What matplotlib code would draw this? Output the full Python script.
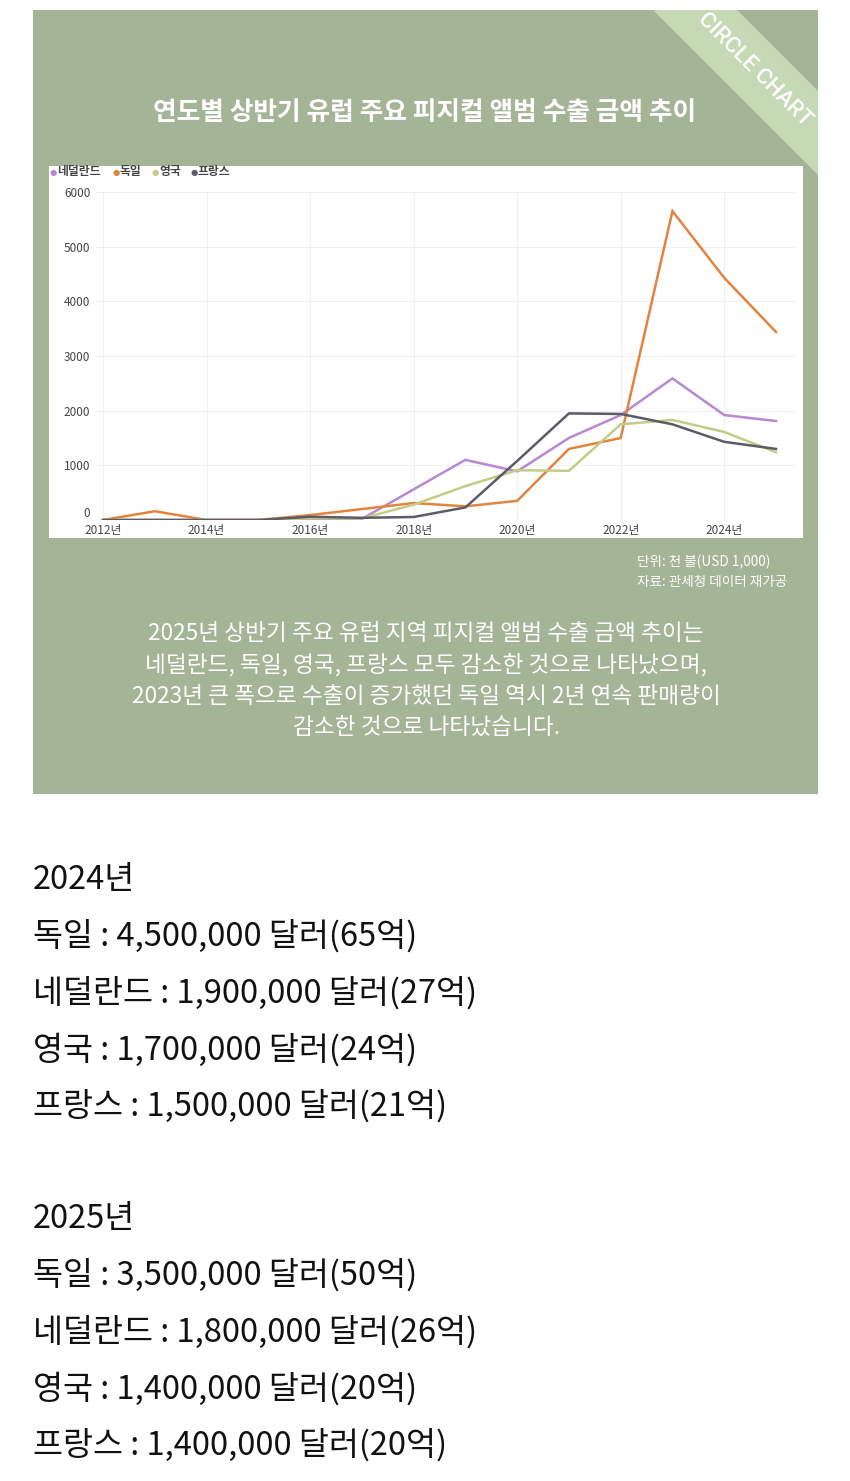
import matplotlib
matplotlib.use("Agg")
import matplotlib.pyplot as plt
from matplotlib.patches import Rectangle, Polygon

plt.rcParams['font.family'] = ['Noto Sans CJK KR', 'DejaVu Sans']

W, H = 850, 1481

# data (unit: thousand USD, first half of each year)
years = list(range(2012, 2026))
series_names = ['네덜란드', '독일', '영국', '프랑스']
netherlands = [0, 0, 0, 0, 0, 20, 560, 1100, 890, 1500, 1920, 2590, 1920, 1810]
germany = [0, 160, 0, 0, 90, 200, 310, 250, 350, 1300, 1500, 5650, 4430, 3440]
uk = [0, 0, 0, 0, 30, 30, 280, 620, 910, 900, 1750, 1830, 1610, 1240]
france = [0, 0, 0, 0, 60, 40, 55, 230, 1080, 1950, 1940, 1750, 1430, 1300]
series_colors = ['#b888d2', '#e2843e', '#c3cc86', '#5c5c66']
xtick_years = [2012, 2014, 2016, 2018, 2020, 2022, 2024]
yticks = [0, 1000, 2000, 3000, 4000, 5000, 6000]

title = '연도별 상반기 유럽 주요 피지컬 앨범 수출 금액 추이'
unit_note = '단위: 천 불(USD 1,000)'
source_note = '자료: 관세청 데이터 재가공'
paragraph = ['2025년 상반기 주요 유럽 지역 피지컬 앨범 수출 금액 추이는',
             '네덜란드, 독일, 영국, 프랑스 모두 감소한 것으로 나타났으며,',
             '2023년 큰 폭으로 수출이 증가했던 독일 역시 2년 연속 판매량이',
             '감소한 것으로 나타났습니다.']
summary_2024 = ['2024년',
                '독일 : 4,500,000 달러(65억)',
                '네덜란드 : 1,900,000 달러(27억)',
                '영국 : 1,700,000 달러(24억)',
                '프랑스 : 1,500,000 달러(21억)']
summary_2025 = ['2025년',
                '독일 : 3,500,000 달러(50억)',
                '네덜란드 : 1,800,000 달러(26억)',
                '영국 : 1,400,000 달러(20억)',
                '프랑스 : 1,400,000 달러(20억)']

fig = plt.figure(figsize=(W / 100, H / 100), dpi=100)
fig.patch.set_facecolor('white')


def fx(px):
    return px / W


def fy(py):
    return 1 - py / H


# green panel
panel_color = '#a4b496'
fig.patches.append(Rectangle((fx(33), fy(794)), fx(818) - fx(33), fy(10) - fy(794),
                             transform=fig.transFigure, facecolor=panel_color,
                             edgecolor='none', zorder=0))
# corner ribbon
ribbon = Polygon([(fx(653), fy(10)), (fx(737), fy(10)), (fx(818), fy(91)), (fx(818), fy(175))],
                 closed=True, transform=fig.transFigure, facecolor='#c4d9b4',
                 edgecolor='none', zorder=1)
fig.patches.append(ribbon)
fig.text(fx(754), fy(70), 'CIRCLE CHART', rotation=-45, ha='center', va='center',
         color='white', fontsize=16, fontweight='medium',
         family=['Roboto', 'DejaVu Sans'], zorder=2)

fig.text(fx(425), fy(113), title, ha='center', va='center', color='white',
         fontsize=18.5, fontweight='bold')

# white chart card
fig.patches.append(Rectangle((fx(49), fy(538)), fx(803) - fx(49), fy(166) - fy(538),
                             transform=fig.transFigure, facecolor='white',
                             edgecolor='none', zorder=1))

# plot axes
ax_left, ax_right, ax_top, ax_bottom = 96, 795, 192, 520
ax = fig.add_axes([fx(ax_left), fy(ax_bottom), fx(ax_right) - fx(ax_left), fy(ax_top) - fy(ax_bottom)])
ax.set_facecolor('none')
ax.set_zorder(3)
px_per_year = (776 - 103) / 13
ax.set_xlim(2012 - 7 / px_per_year, 2025 + 19 / px_per_year)
ax.set_ylim(0, 6000)
for vals, c in zip([netherlands, germany, uk, france], series_colors):
    ax.plot(years, vals, color=c, linewidth=1.8, solid_joinstyle='miter')
ax.set_xticks(xtick_years)
ax.set_xticklabels([f'{y}년' for y in xtick_years])
ax.set_yticks(yticks)
ax.set_yticklabels([str(v) for v in yticks])
ax.tick_params(length=0, labelsize=8.5, colors='#444444')
ax.tick_params(axis='x', pad=3)
ax.tick_params(axis='y', pad=4)
ax.get_yticklabels()[0].set_verticalalignment('bottom')
ax.grid(True, color='#f0f0f0', linewidth=0.8)
for s in ax.spines.values():
    s.set_visible(False)

# legend row
lx = 50
for name, c in zip(series_names, series_colors):
    fig.text(fx(lx), fy(172), '●', color=c, fontsize=6, ha='left', va='center',
             family=['DejaVu Sans'], zorder=4)
    fig.text(fx(lx + 7), fy(172), name, color='#444444', fontsize=8.5,
             fontweight='bold', ha='left', va='center', zorder=4)
    lx += 7 + len(name) * 12 + 8

# notes
fig.text(fx(637), fy(562), unit_note, ha='left', va='center', color='white', fontsize=9.8)
fig.text(fx(637), fy(582), source_note, ha='left', va='center', color='white', fontsize=9.8)

for i, line in enumerate(paragraph):
    fig.text(fx(426), fy(634 + i * 31.3), line, ha='center', va='center',
             color='white', fontsize=16.3)

# lower text block
for i, line in enumerate(summary_2024):
    fig.text(fx(33), fy(880 + i * 56.5), line, ha='left', va='center',
             color='#111111', fontsize=23.5)
for i, line in enumerate(summary_2025):
    fig.text(fx(33), fy(1219 + i * 56.5), line, ha='left', va='center',
             color='#111111', fontsize=23.5)

fig.savefig('out.png', dpi=100, facecolor='white')
